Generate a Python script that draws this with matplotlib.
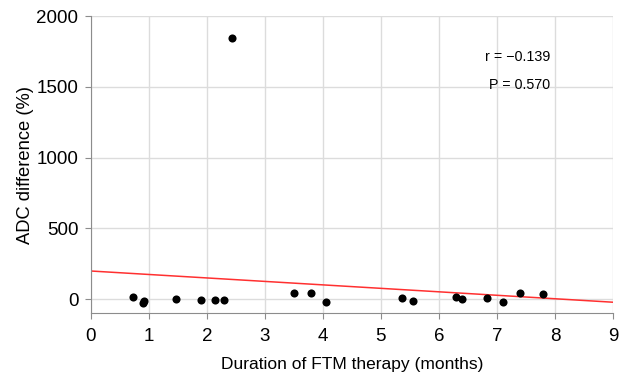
import numpy as np
import matplotlib.pyplot as plt

plt.rcParams["font.family"] = ["Liberation Sans", "DejaVu Sans"]

# data
duration = [0.73, 0.89, 0.92, 1.47, 1.89, 2.13, 2.30, 2.44, 3.50, 3.80, 4.06,
            5.37, 5.56, 6.30, 6.40, 6.83, 7.10, 7.40, 7.80]
adc_diff = [12, -27, -17, 0, -7, -7, -7, 1842, 44, 41, -22,
            7, -12, 12, 0, 5, -22, 44, 34]
fit_intercept = 198
fit_slope = -24.5
r_text = "r = \u22120.139"
p_text = "P = 0.570"

fig = plt.figure(figsize=(6.21, 3.81), dpi=100)
ax = fig.add_axes([0.1465, 0.178, 0.8405, 0.78])

ax.scatter(duration, adc_diff, s=34, color="black", zorder=3, linewidths=0)
xs = np.array([0, 9])
ax.plot(xs, fit_intercept + fit_slope * xs, color="#ff3030", lw=1.1, zorder=2)

ax.set_xlim(0, 9)
ax.set_ylim(-100, 2000)
ax.set_xticks(range(0, 10))
ax.set_yticks([0, 500, 1000, 1500, 2000])
ax.grid(True, color="#dcdcdc", lw=1)
ax.set_axisbelow(True)

for s in ["top", "right"]:
    ax.spines[s].set_visible(False)
for s in ["left", "bottom"]:
    ax.spines[s].set_color("#8c8c8c")
ax.tick_params(colors="#8c8c8c", labelcolor="black", labelsize=13.5, length=4)
ax.tick_params(axis="x", pad=7)
ax.tick_params(axis="y", pad=5)

ax.set_xlabel("Duration of FTM therapy (months)", fontsize=12.5, labelpad=8)
ax.set_ylabel("ADC difference (%)", fontsize=13.2, labelpad=2)

ax.text(7.92, 1708, r_text, ha="right", va="center", fontsize=10.3)
ax.text(7.92, 1510, p_text, ha="right", va="center", fontsize=10.3)

plt.savefig("out.png", dpi=100)
